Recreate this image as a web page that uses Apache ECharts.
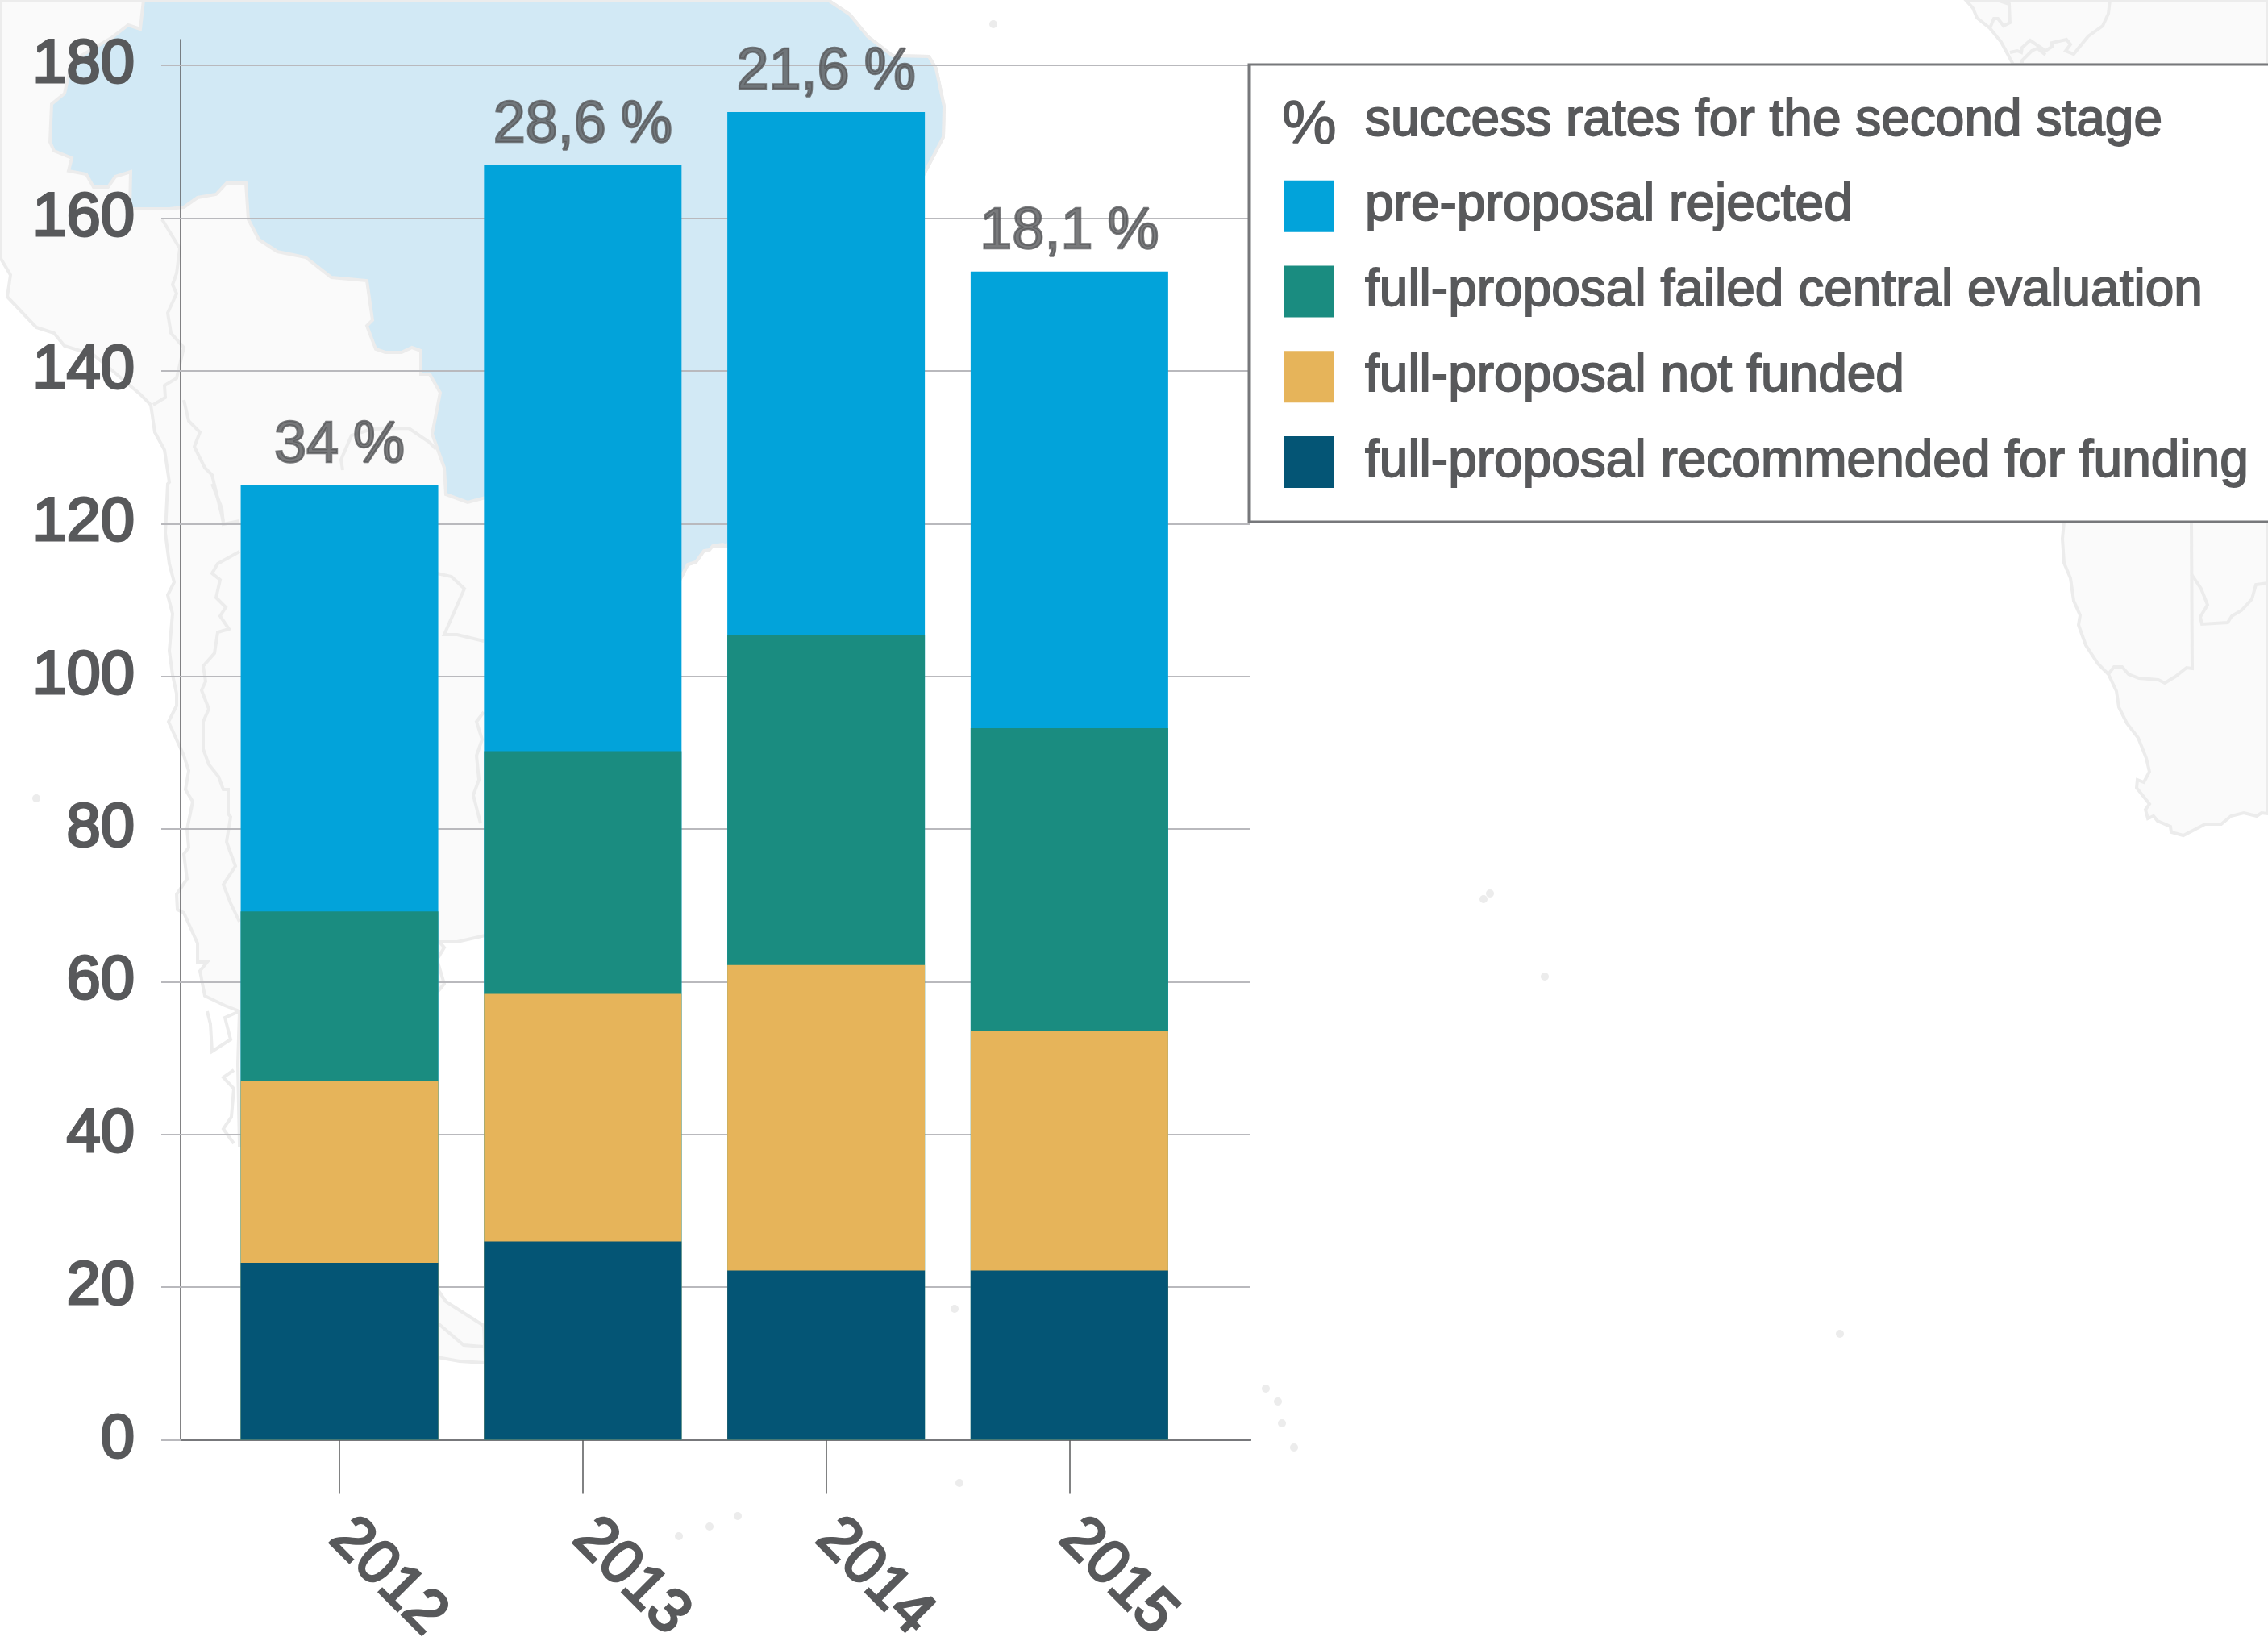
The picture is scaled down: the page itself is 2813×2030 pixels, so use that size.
<!DOCTYPE html>
<html><head><meta charset="utf-8">
<style>html,body{margin:0;padding:0;background:#fff}#c{width:2813px;height:2030px}</style>
<script src="https://cdn.jsdelivr.net/npm/echarts@6/dist/echarts.min.js"></script></head>
<body><div id="c"></div>
<script>
const years = [2012, 2013, 2014, 2015];
const yTicks = [0, 20, 40, 60, 80, 100, 120, 140, 160, 180];
const recommended = [23.2, 26, 22.2, 22.2];
const notFunded = [23.8, 32.4, 40, 31.4];
const failedCentral = [22.2, 31.8, 43.2, 39.6];
const rejected = [55.8, 76.8, 68.5, 59.8];
const rateLabels = ['34\u2005%', '28,6\u2005%', '21,6\u2005%', '18,1\u2005%'];
const names = {
  rate: 'success rates for the second stage',
  rejected: 'pre-proposal rejected',
  failed: 'full-proposal failed central evaluation',
  notFunded: 'full-proposal not funded',
  recommended: 'full-proposal recommended for funding'
};
const TEXT = '#58595b', FONT = '"Liberation Sans", Arial, sans-serif';

// decorative world-map backdrop
const LAND = '#fafafa', EDGE = '#ececec', BRAZIL = '#d2e9f5';
const southAmerica = [[0,0],[1027,0],[1054,18],[1076,45],[1107,69],[1152,70],[1161,85],[1171,132],[1170,170],[1147,214],[1000,480],[902,677],[884,677],[873,683],[863,697],[853,700],[847,712],[700,1000],[602,1160],[567,1168],[545,1168],[551,1175],[542,1190],[551,1220],[542,1231],[420,1420],[297,1420],[295,1320],[297,1254],[279,1247],[254,1235],[248,1204],[257,1193],[245,1193],[245,1170],[228,1132],[220,1128],[219,1109],[232,1090],[228,1059],[234,1051],[232,1028],[239,994],[230,979],[234,956],[228,937],[209,895],[219,875],[219,860],[214,837],[210,807],[214,761],[208,738],[216,722],[210,699],[205,661],[208,600],[210,598],[204,558],[192,536],[187,502],[174,489],[161,478],[134,455],[116,440],[80,429],[67,413],[45,406],[9,368],[13,341],[0,319]];
const brazil = [[178,0],[174,36],[159,31],[138,47],[89,76],[80,116],[64,129],[62,176],[67,187],[89,196],[85,212],[107,216],[116,232],[134,232],[143,219],[162,213],[161,259],[210,259],[228,257],[245,245],[268,241],[281,227],[305,227],[308,272],[321,297],[344,312],[379,319],[411,344],[455,348],[462,397],[455,404],[466,433],[478,437],[498,437],[511,431],[522,435],[522,464],[533,464],[546,487],[536,538],[541,552],[551,580],[553,613],[580,623],[602,617],[847,712],[853,700],[863,697],[873,683],[880,682],[884,677],[896,675],[902,677],[1000,480],[1147,214],[1170,170],[1171,132],[1161,85],[1152,70],[1107,69],[1076,45],[1054,18],[1027,0]];
const fuego = [[542,1598],[553,1614],[600,1644],[602,1690],[570,1688],[542,1683]];
const africaTop = [[2438,0],[2447,10],[2452,22],[2468,35],[2482,52],[2497,80],[2813,80],[2813,0]];
const africaSouth = [[2560,647],[2558,668],[2560,698],[2568,717],[2572,745],[2580,763],[2578,775],[2587,800],[2602,823],[2615,836],[2625,857],[2628,877],[2638,897],[2652,915],[2662,940],[2666,957],[2659,970],[2651,967],[2650,977],[2666,997],[2661,1004],[2664,1015],[2671,1012],[2676,1018],[2692,1025],[2693,1032],[2708,1036],[2735,1022],[2755,1022],[2767,1012],[2783,1008],[2799,1012],[2805,1008],[2813,1009],[2813,647]];
const borders = [
  [[263,600],[275,630],[277,650],[297,646]],
  [[297,684],[270,699],[263,711],[273,719],[268,741],[280,753],[273,764],[284,780],[270,784],[266,810],[252,826],[255,845],[250,856],[259,879],[252,895],[252,929],[259,948],[271,963],[277,979],[283,979],[283,1009],[286,1013],[281,1044],[292,1074],[277,1097],[286,1120],[297,1143]],
  [[542,711],[560,715],[576,730],[551,787],[567,787],[600,795]],
  [[600,883],[591,895],[598,917],[591,937],[594,967],[587,986],[596,1021]],
  [[201,272],[223,308],[219,339],[214,353],[219,364],[208,388],[212,413],[228,431],[219,469],[204,478],[205,493],[190,502]],
  [[228,496],[234,522],[248,536],[241,554],[254,580],[263,589],[277,647]],
  [[425,583],[423,570],[436,540],[461,532],[507,531],[532,548],[541,557]],
  [[257,1254],[261,1270],[263,1304],[286,1289],[279,1262],[297,1254]],
  [[290,1327],[277,1336],[290,1350],[287,1385],[277,1400],[290,1418]],
  [[2477,0],[2492,5],[2493,28],[2485,32],[2478,23],[2473,23],[2468,35]],
  [[2493,65],[2502,63],[2507,65],[2508,59],[2518,50],[2537,63],[2545,58],[2545,53],[2563,49],[2568,55],[2562,63],[2572,67],[2590,45],[2608,32],[2615,17],[2617,0]],
  [[2508,79],[2508,75],[2520,63],[2527,60],[2537,68]],
  [[2615,836],[2622,827],[2632,827],[2640,836],[2653,841],[2677,843],[2685,847],[2698,839],[2712,828],[2719,829],[2718,647]],
  [[2718,712],[2730,730],[2738,750],[2729,765],[2731,774],[2763,772],[2768,764],[2780,757],[2793,743],[2798,725],[2813,723]],
  [[542,1640],[575,1668],[600,1670]]
];
const islands = [[1840,1115],[1848,1108],[1916,1211],[2282,1654],[45,990],[1570,1722],[1585,1738],[1590,1765],[1605,1795],[1184,1623],[1190,1839],[880,1893],[915,1880],[842,1905],[1232,30]];

const mapGraphics = [];
[southAmerica, africaTop, africaSouth, fuego].forEach(p => mapGraphics.push({type:'polygon', z:-20, silent:true, shape:{points:p}, style:{fill:LAND, stroke:EDGE, lineWidth:4}}));
mapGraphics.push({type:'polygon', z:-19, silent:true, shape:{points:brazil}, style:{fill:BRAZIL, stroke:EDGE, lineWidth:4}});
borders.forEach(p => mapGraphics.push({type:'polyline', z:-18, silent:true, shape:{points:p}, style:{fill:null, stroke:EDGE, lineWidth:4}}));
islands.forEach(c => mapGraphics.push({type:'circle', z:-18, silent:true, shape:{cx:c[0], cy:c[1], r:5}, style:{fill:EDGE}}));
mapGraphics.push({type:'text', z:100, silent:true, x:1590, y:118, style:{text:'%', fill:TEXT, font:'76px "Liberation Sans"', stroke:TEXT, lineWidth:1.5}});

// running totals: each segment is a bar up to its cumulative top, drawn back to front
const cum1 = recommended;
const cum2 = cum1.map((v, i) => v + notFunded[i]);
const cum3 = cum2.map((v, i) => v + failedCentral[i]);
const cum4 = cum3.map((v, i) => v + rejected[i]);
const pairs = arr => arr.map((v, i) => [years[i], v]);
const bar = (name, data, color) => ({name, type:'bar', barWidth:245, barGap:'-100%', data:pairs(data), itemStyle:{color}, silent:true});

const chart = echarts.init(document.getElementById('c'), null, {renderer:'canvas'});
chart.setOption({
  animation:false,
  backgroundColor:'#ffffff',
  graphic:mapGraphics,
  grid:{left:224, width:1326, top:49, height:1736.6, outerBoundsMode:'none', containLabel:false},
  xAxis:{type:'value', min:2011.347, max:2015.741, splitLine:{show:false},
    axisLine:{show:true, lineStyle:{color:'#77787b', width:3}},
    axisTick:{show:true, length:67, customValues:years, lineStyle:{color:TEXT, width:1.5}},
    axisLabel:{show:true, customValues:years, formatter:v => String(v), rotate:-45, margin:110, fontSize:76, color:TEXT, fontFamily:FONT, textBorderColor:TEXT, textBorderWidth:3}},
  yAxis:{type:'value', min:0, max:183.4, 
    splitLine:{show:true, lineStyle:{color:'#b9b9bd', width:2}},
    axisLine:{show:true, lineStyle:{color:TEXT, width:1.5}},
    axisTick:{show:true, length:24, customValues:yTicks, lineStyle:{color:'#b9b9bd', width:2}},
    axisLabel:{show:true, customValues:yTicks, margin:57, fontSize:76, color:TEXT, fontFamily:FONT, textBorderColor:TEXT, textBorderWidth:3}},
  legend:{show:true, orient:'vertical', left:1549, top:80, selectedMode:false, itemWidth:63, itemHeight:64, itemGap:40,
    padding:[37,90,41,43], borderColor:'#77787b', borderWidth:3, backgroundColor:'#ffffff',
    textStyle:{color:TEXT, fontSize:64, lineHeight:64, fontFamily:FONT, textBorderColor:TEXT, textBorderWidth:1.8, padding:[0,0,0,33]},
    data:[{name:names.rate, icon:'rect', itemStyle:{color:'transparent'}},
      {name:names.rejected, icon:'rect'},{name:names.failed, icon:'rect'},{name:names.notFunded, icon:'rect'},{name:names.recommended, icon:'rect'}]},
  series:[
    bar(names.rejected, cum4, '#02a3da'),
    bar(names.failed, cum3, '#1a8c80'),
    bar(names.notFunded, cum2, '#e6b45a'),
    bar(names.recommended, cum1, '#045575'),
    {name:names.rate, type:'scatter', silent:true, symbolSize:1, itemStyle:{color:'transparent'},
      data:pairs(cum4),
      label:{show:true, position:'top', distance:12, formatter:p => rateLabels[p.dataIndex], fontSize:72, color:TEXT, fontFamily:FONT, textBorderColor:TEXT, textBorderWidth:2.5}}
  ]
});
</script></body></html>
